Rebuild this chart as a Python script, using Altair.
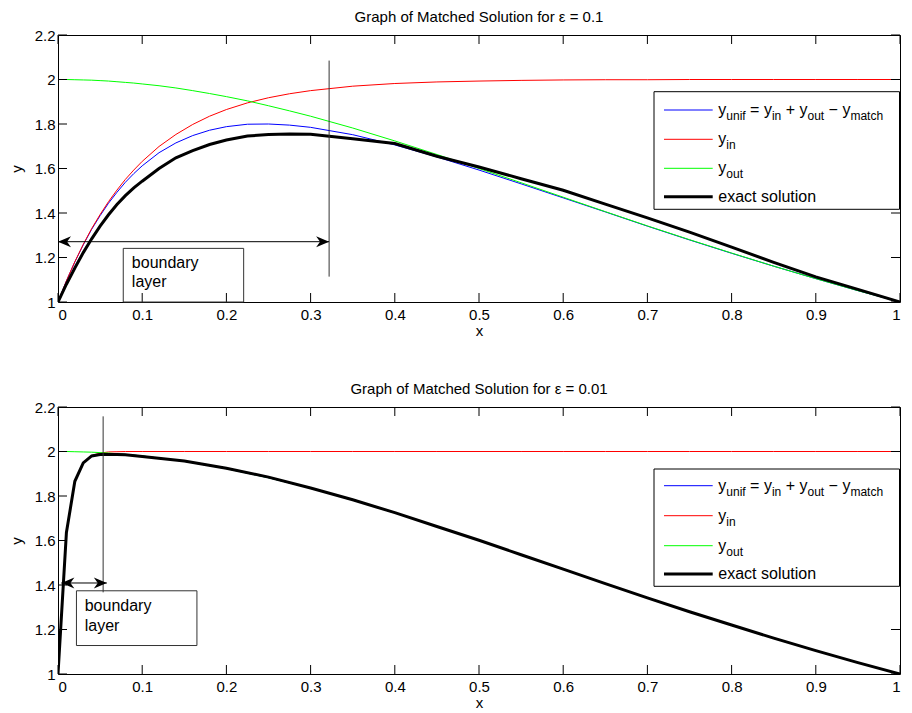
import altair as alt
import pandas as pd

# ---------------- data ----------------
# panel 1: epsilon = 0.1
x_top = [0, 0.01, 0.02, 0.03, 0.04, 0.05, 0.06, 0.07, 0.08, 0.09, 0.1, 0.12, 0.14, 0.16, 0.18, 0.2,
         0.225, 0.25, 0.275, 0.3, 0.35, 0.4, 0.45, 0.5, 0.55, 0.6, 0.65, 0.7, 0.75, 0.8, 0.85, 0.9, 0.95, 1.0]
yin_top = [1.0, 1.095, 1.181, 1.259, 1.330, 1.393, 1.451, 1.503, 1.551, 1.593, 1.632, 1.699, 1.753, 1.798,
           1.835, 1.865, 1.895, 1.918, 1.936, 1.950, 1.970, 1.982, 1.989, 1.993, 1.996, 1.998, 1.999, 1.999,
           2.0, 2.0, 2.0, 2.0, 2.0, 2.0]
yout_top = [2.0, 2.0, 1.999, 1.998, 1.997, 1.995, 1.993, 1.990, 1.987, 1.984, 1.980, 1.972, 1.962, 1.950,
            1.937, 1.923, 1.904, 1.882, 1.859, 1.835, 1.782, 1.724, 1.663, 1.600, 1.536, 1.471, 1.406, 1.342,
            1.280, 1.220, 1.161, 1.105, 1.051, 1.0]
yunif_top = [1.0, 1.095, 1.180, 1.257, 1.327, 1.388, 1.444, 1.493, 1.538, 1.577, 1.612, 1.671, 1.715, 1.748,
             1.772, 1.788, 1.799, 1.800, 1.795, 1.785, 1.752, 1.706, 1.652, 1.593, 1.531, 1.468, 1.405, 1.341,
             1.279, 1.219, 1.161, 1.105, 1.051, 1.0]
exact_top = [1.0, 1.080, 1.153, 1.222, 1.284, 1.341, 1.392, 1.438, 1.478, 1.513, 1.543, 1.600, 1.648, 1.680,
             1.708, 1.728, 1.746, 1.753, 1.755, 1.754, 1.734, 1.712, 1.655, 1.607, 1.554, 1.502, 1.440, 1.378,
             1.314, 1.247, 1.178, 1.113, 1.057, 1.0]

# panel 2: epsilon = 0.01
x_bot = [0, 0.01, 0.02, 0.03, 0.04, 0.05, 0.06, 0.07, 0.08, 0.1, 0.15, 0.2, 0.25, 0.3,
         0.35, 0.4, 0.45, 0.5, 0.55, 0.6, 0.65, 0.7, 0.75, 0.8, 0.85, 0.9, 0.95, 1.0]
yin_bot = [1.0, 1.632, 1.865, 1.950, 1.982, 1.993, 1.998, 1.999, 2.0, 2.0, 2.0, 2.0, 2.0, 2.0,
           2.0, 2.0, 2.0, 2.0, 2.0, 2.0, 2.0, 2.0, 2.0, 2.0, 2.0, 2.0, 2.0, 2.0]
yout_bot = [2.0, 2.0, 1.999, 1.998, 1.997, 1.995, 1.993, 1.990, 1.987, 1.980, 1.956, 1.923, 1.882, 1.835,
            1.782, 1.724, 1.663, 1.600, 1.536, 1.471, 1.406, 1.342, 1.280, 1.220, 1.161, 1.105, 1.051, 1.0]
yunif_bot = [1.0, 1.632, 1.864, 1.948, 1.979, 1.988, 1.990, 1.989, 1.987, 1.980, 1.956, 1.923, 1.882, 1.835,
             1.782, 1.724, 1.663, 1.600, 1.536, 1.471, 1.406, 1.342, 1.280, 1.220, 1.161, 1.105, 1.051, 1.0]
exact_bot = [1.0, 1.636, 1.866, 1.949, 1.980, 1.986, 1.987, 1.986, 1.985, 1.978, 1.957, 1.925, 1.885, 1.836,
             1.783, 1.725, 1.663, 1.601, 1.536, 1.471, 1.406, 1.342, 1.280, 1.220, 1.161, 1.105, 1.051, 1.0]

x_ticks = [0, 0.1, 0.2, 0.3, 0.4, 0.5, 0.6, 0.7, 0.8, 0.9, 1.0]
y_ticks = [1.0, 1.2, 1.4, 1.6, 1.8, 2.0, 2.2]

titles = ["Graph of Matched Solution for \u03b5 = 0.1", "Graph of Matched Solution for \u03b5 = 0.01"]

# boundary-layer annotations (data units)
ann_top = dict(bl=0.322, v1=2.085, v2=1.114, ay=1.271, ax1=0.0, ax2=0.322,
               bx1=0.0775, bx2=0.2205, by1=1.0, by2=1.241, tx=0.0877, ty=[1.174, 1.091])
ann_bot = dict(bl=0.0536, v1=2.158, v2=1.367, ay=1.409, ax1=0.004, ax2=0.058,
               bx1=0.0219, bx2=0.165, by1=1.128, by2=1.374, tx=0.0317, ty=[1.307, 1.2175])
box_words = ["boundary", "layer"]

# ---------------- styling ----------------
FONT = "Liberation Sans"
W, H = 842, 267
TICK = 9
BLUE, RED, GREEN = "#0000ff", "#ff0000", "#00ff00"

xs = alt.Scale(domain=[0, 1], nice=False, zero=False)
ys = alt.Scale(domain=[1, 2.2], nice=False, zero=False)
xax = alt.Axis(values=x_ticks, format=".1~f", title="x", labelFlush=True, labelOverlap=False,
               labelPadding=5.5, titlePadding=1)
yax = alt.Axis(values=y_ticks, format=".1~f", title="y", labelOverlap=False,
               labelPadding=3, titlePadding=10)

EM = {" ": .278, "=": .584, "+": .584, "\u2212": .584, "y": .5, "u": .556, "n": .556, "i": .222,
      "f": .278, "o": .556, "t": .278, "m": .833, "a": .556, "c": .5, "h": .556, "e": .556,
      "x": .5, "s": .5, "l": .222}


def tw(s, size):
    return sum(EM.get(c, .556) for c in s) * size


one = pd.DataFrame({"k": [0]})


def rich(pieces, x0, sy):
    layers = []
    x = x0
    for txt, sub in pieces:
        size = 12 if sub else 16
        dy = 10 if sub else 5
        st = txt.lstrip(" ")
        lead = tw(txt[: len(txt) - len(st)], size)
        layers.append(
            alt.Chart(one).mark_text(text=st, font=FONT, fontSize=size, align="left",
                                     baseline="alphabetic", color="black")
            .encode(x=alt.value(x + lead), y=alt.value(sy + dy))
        )
        x += tw(txt, size)
    return layers


legend_rows = [
    ([("y", 0), ("unif", 1), (" = y", 0), ("in", 1), (" + y", 0), ("out", 1), (" \u2212 y", 0), ("match", 1)], BLUE, 1),
    ([("y", 0), ("in", 1)], RED, 1),
    ([("y", 0), ("out", 1)], GREEN, 1),
    ([("exact solution", 0)], "black", 3),
]


def legend(box_y1, box_y2, rows_y):
    layers = [
        alt.Chart(one).mark_rect(fill="white", stroke="black", strokeWidth=1)
        .encode(x=alt.value(W - 246), x2=alt.value(W - 0.5), y=alt.value(box_y1), y2=alt.value(box_y2))
    ]
    for (pieces, col, sw), sy in zip(legend_rows, rows_y):
        layers.append(
            alt.Chart(one).mark_rule(color=col, strokeWidth=sw)
            .encode(x=alt.value(W - 236), x2=alt.value(W - 187.3), y=alt.value(sy))
        )
        layers += rich(pieces, W - 181.7, sy)
    return layers


def panel(x, yunif, yin, yout, yex, title, ann, box_y1, box_y2, rows_y):
    df = pd.DataFrame({"x": x, "yunif": yunif, "yin": yin, "yout": yout, "yex": yex})
    X = alt.X("x:Q", scale=xs, axis=xax)

    def line(col, color, sw):
        return alt.Chart(df).mark_line(color=color, strokeWidth=sw, clip=True).encode(
            x=X, y=alt.Y(f"{col}:Q", scale=ys, axis=yax))

    xt = pd.DataFrame({"t": x_ticks})
    yt = pd.DataFrame({"t": y_ticks})
    tx = alt.X("t:Q", scale=xs, axis=xax)
    ty = alt.Y("t:Q", scale=ys, axis=yax)
    ticks = [
        alt.Chart(xt).mark_rule(color="black").encode(x=tx, y=alt.value(H), y2=alt.value(H - TICK)),
        alt.Chart(xt).mark_rule(color="black").encode(x=tx, y=alt.value(0), y2=alt.value(TICK)),
        alt.Chart(yt).mark_rule(color="black").encode(y=ty, x=alt.value(0), x2=alt.value(TICK)),
        alt.Chart(yt).mark_rule(color="black").encode(y=ty, x=alt.value(W - TICK), x2=alt.value(W)),
    ]

    a = pd.DataFrame({"bl": [ann["bl"]], "v1": [ann["v1"]], "v2": [ann["v2"]], "ay": [ann["ay"]],
                      "ax1": [ann["ax1"]], "ax2": [ann["ax2"]], "bx1": [ann["bx1"]], "bx2": [ann["bx2"]],
                      "by1": [ann["by1"]], "by2": [ann["by2"]]})
    words = pd.DataFrame({"w": box_words, "tx": [ann["tx"]] * 2, "ty": ann["ty"]})
    head = "M0,0 L-1,-0.42 L-0.7,0 L-1,0.42 Z"
    annots = [
        alt.Chart(a).mark_rule(color="#333333", strokeWidth=1).encode(
            x=alt.X("bl:Q", scale=xs, axis=xax), y=alt.Y("v1:Q", scale=ys, axis=yax), y2="v2:Q"),
        alt.Chart(a).mark_rule(color="black", strokeWidth=1).encode(
            x=alt.X("ax1:Q", scale=xs, axis=xax), x2="ax2:Q", y=alt.Y("ay:Q", scale=ys, axis=yax)),
        alt.Chart(a).mark_point(shape=head, filled=True, size=676, color="black", opacity=1).encode(
            x=alt.X("ax2:Q", scale=xs, axis=xax), y=alt.Y("ay:Q", scale=ys, axis=yax)),
        alt.Chart(a).mark_point(shape=head, filled=True, size=676, color="black", opacity=1, angle=180).encode(
            x=alt.X("ax1:Q", scale=xs, axis=xax), y=alt.Y("ay:Q", scale=ys, axis=yax)),
        alt.Chart(a).mark_rect(filled=False, stroke="#333333", strokeWidth=1).encode(
            x=alt.X("bx1:Q", scale=xs, axis=xax), x2="bx2:Q",
            y=alt.Y("by1:Q", scale=ys, axis=yax), y2="by2:Q"),
        alt.Chart(words).mark_text(font=FONT, fontSize=16, align="left", baseline="middle", color="black").encode(
            x=alt.X("tx:Q", scale=xs, axis=xax), y=alt.Y("ty:Q", scale=ys, axis=yax), text="w:N"),
    ]

    layers = [line("yunif", BLUE, 1), line("yin", RED, 1), line("yout", GREEN, 1), line("yex", "black", 3)]
    layers += ticks + annots + legend(box_y1, box_y2, rows_y)
    return alt.layer(*layers).properties(width=W, height=H, title=alt.Title(title))


top = panel(x_top, yunif_top, yin_top, yout_top, exact_top, titles[0], ann_top,
            56.7, 174.3, [75, 104.3, 133.3, 161.7])
bot = panel(x_bot, yunif_bot, yin_bot, yout_bot, exact_bot, titles[1], ann_bot,
            62, 179.3, [78.7, 108.7, 138.7, 167])

chart = (
    alt.vconcat(top, bot, spacing=42)
    .properties(padding={"left": 0, "top": 1, "right": 0, "bottom": 0}, background="white")
    .configure_view(stroke="black", strokeWidth=1)
    .configure_axis(labelFont=FONT, titleFont=FONT, labelFontSize=15, titleFontSize=15,
                    titleFontWeight="normal", labelColor="black", titleColor="black",
                    grid=False, ticks=False, domain=False)
    .configure_title(font=FONT, fontSize=15, fontWeight="normal", color="black", offset=3.5)
)

chart.save("out.html", embed_options={"renderer": "svg", "actions": False})
